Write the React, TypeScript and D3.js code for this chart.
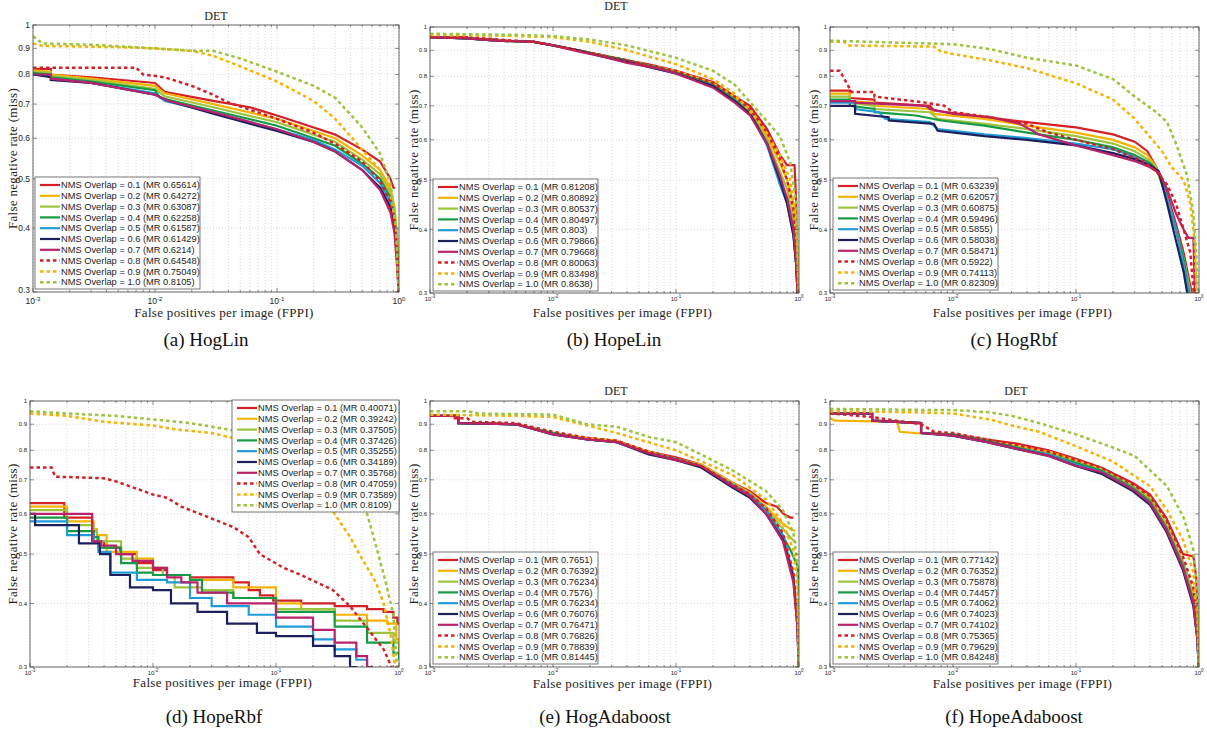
import React from "react";
import * as d3 from "d3";

const width = 1207;
const height = 733;

const overlapLabels = ["0.1", "0.2", "0.3", "0.4", "0.5", "0.6", "0.7", "0.8", "0.9", "1.0"];
const seriesColors = ["#d42027", "#f5b301", "#9cc43c", "#179a44", "#1f9bd8", "#1c1f5c", "#b8236c", "#d42027", "#f5b301", "#9cc43c"];
const seriesDashed = [false, false, false, false, false, false, false, true, true, true];

const yTickValues = [0.3, 0.4, 0.5, 0.6, 0.7, 0.8, 0.9, 1];
const yTickLabels = ["0.3", "0.4", "0.5", "0.6", "0.7", "0.8", "0.9", "1"];
const xTickExponents = [-3, -2, -1, 0];
const captions = ["(a) HogLin", "(b) HopeLin", "(c) HogRbf", "(d) HopeRbf", "(e) HogAdaboost", "(f) HopeAdaboost"];

// MR values shown in legends
const hogLinMR = ["0.65614", "0.64272", "0.63087", "0.62258", "0.61587", "0.61429", "0.6214", "0.64548", "0.75049", "0.8105"];
const hopeLinMR = ["0.81208", "0.80892", "0.80537", "0.80497", "0.803", "0.79866", "0.79668", "0.80063", "0.83498", "0.8638"];
const hogRbfMR = ["0.63239", "0.62057", "0.60875", "0.59496", "0.5855", "0.58038", "0.58471", "0.5922", "0.74113", "0.82309"];
const hopeRbfMR = ["0.40071", "0.39242", "0.37505", "0.37426", "0.35255", "0.34189", "0.35768", "0.47059", "0.73589", "0.8109"];
const hogAdaMR = ["0.7651", "0.76392", "0.76234", "0.7576", "0.76234", "0.76076", "0.76471", "0.76826", "0.78839", "0.81445"];
const hopeAdaMR = ["0.77142", "0.76352", "0.75878", "0.74457", "0.74062", "0.74023", "0.74102", "0.75365", "0.79629", "0.84248"];

// curves: [fppi, miss rate]
const hogLinCurves = [
  [[.001,.82],[.0014,.82],[.0014,.80],[.003,.79],[.01,.77],[.012,.74],[.03,.71],[.06,.69],[.1,.665],[.2,.63],[.3,.61],[.5,.57],[.7,.54],[.85,.50],[.9,.48],[.93,.48]],
  [[.001,.815],[.0014,.81],[.0014,.80],[.003,.785],[.01,.76],[.012,.735],[.03,.70],[.1,.655],[.2,.62],[.3,.60],[.5,.555],[.7,.52],[.85,.48],[.92,.44],[.97,.38],[1,.29]],
  [[.001,.81],[.0014,.805],[.0014,.795],[.003,.78],[.01,.75],[.012,.725],[.03,.69],[.1,.645],[.2,.61],[.3,.59],[.5,.545],[.7,.51],[.85,.47],[.92,.43],[.97,.37],[1,.29]],
  [[.001,.805],[.0014,.80],[.0014,.79],[.003,.775],[.01,.745],[.011,.72],[.03,.68],[.1,.635],[.2,.60],[.3,.58],[.5,.535],[.7,.50],[.85,.46],[.92,.42],[.97,.36],[1,.29]],
  [[.001,.80],[.0014,.795],[.0014,.785],[.003,.77],[.01,.735],[.012,.71],[.03,.675],[.1,.625],[.2,.595],[.3,.57],[.5,.53],[.7,.49],[.85,.45],[.92,.41],[.97,.35],[1,.29]],
  [[.001,.80],[.0014,.79],[.0014,.78],[.003,.77],[.01,.73],[.013,.71],[.03,.67],[.1,.62],[.2,.59],[.3,.565],[.5,.52],[.7,.48],[.85,.44],[.92,.40],[.97,.34],[1,.29]],
  [[.001,.80],[.0014,.80],[.0014,.785],[.003,.77],[.01,.73],[.013,.71],[.03,.675],[.1,.625],[.2,.59],[.3,.565],[.5,.52],[.7,.475],[.85,.43],[.92,.39],[.97,.33],[1,.29]],
  [[.001,.825],[.007,.825],[.008,.80],[.012,.79],[.02,.76],[.03,.73],[.04,.705],[.1,.655],[.2,.615],[.3,.585],[.5,.54],[.7,.495],[.85,.45],[.92,.41],[.97,.35],[1,.29]],
  [[.001,.92],[.0012,.91],[.005,.905],[.01,.90],[.02,.89],[.03,.87],[.05,.83],[.1,.775],[.2,.71],[.3,.655],[.5,.57],[.7,.52],[.85,.47],[.95,.40],[1,.29]],
  [[.001,.95],[.0012,.92],[.003,.915],[.01,.90],[.02,.89],[.03,.89],[.05,.86],[.1,.81],[.2,.76],[.3,.72],[.5,.63],[.7,.56],[.85,.49],[.95,.40],[1,.29]],
];

const hopeLinCurves = [
  [[.001,.955],[.002,.955],[.002,.95],[.0035,.945],[.0035,.94],[.007,.935],[.01,.92],[.016,.90],[.025,.88],[.04,.86],[.06,.845],[.1,.82],[.2,.78],[.3,.73],[.4,.70],[.55,.63],[.7,.56],[.8,.535],[.92,.535],[.95,.45],[.98,.29]],
  [[.001,.955],[.002,.95],[.0035,.94],[.007,.935],[.01,.92],[.016,.90],[.025,.88],[.04,.86],[.06,.84],[.1,.82],[.2,.775],[.3,.73],[.4,.69],[.55,.61],[.7,.54],[.8,.50],[.9,.45],[.95,.38],[.98,.29]],
  [[.001,.955],[.002,.95],[.0035,.94],[.007,.935],[.01,.92],[.016,.90],[.025,.88],[.04,.86],[.06,.84],[.1,.815],[.2,.77],[.3,.72],[.4,.68],[.55,.60],[.7,.52],[.8,.48],[.9,.42],[.95,.36],[.98,.29]],
  [[.001,.955],[.002,.95],[.0035,.94],[.007,.935],[.01,.92],[.016,.90],[.025,.88],[.04,.86],[.06,.84],[.1,.815],[.2,.77],[.3,.72],[.4,.68],[.55,.59],[.7,.50],[.8,.46],[.9,.40],[.95,.34],[.98,.29]],
  [[.001,.955],[.002,.95],[.0035,.94],[.007,.935],[.01,.92],[.016,.90],[.025,.875],[.04,.855],[.06,.835],[.1,.81],[.2,.765],[.3,.715],[.4,.675],[.55,.585],[.7,.49],[.8,.45],[.9,.39],[.95,.34],[.98,.29]],
  [[.001,.955],[.002,.95],[.0035,.94],[.007,.935],[.01,.92],[.016,.90],[.025,.875],[.04,.855],[.06,.835],[.1,.81],[.2,.765],[.3,.715],[.4,.675],[.55,.59],[.7,.50],[.8,.45],[.9,.39],[.95,.34],[.98,.29]],
  [[.001,.955],[.002,.95],[.0035,.94],[.007,.935],[.01,.92],[.016,.895],[.025,.875],[.04,.85],[.07,.83],[.1,.81],[.2,.76],[.3,.71],[.4,.67],[.55,.59],[.7,.51],[.8,.46],[.9,.40],[.95,.34],[.98,.29]],
  [[.001,.955],[.002,.955],[.0035,.945],[.007,.935],[.01,.92],[.016,.90],[.025,.88],[.04,.86],[.06,.84],[.1,.82],[.2,.775],[.3,.73],[.4,.69],[.55,.62],[.7,.55],[.8,.50],[.9,.44],[.95,.37],[.98,.29]],
  [[.001,.965],[.005,.96],[.01,.955],[.02,.935],[.04,.90],[.1,.845],[.2,.79],[.3,.74],[.5,.64],[.7,.56],[.85,.50],[.95,.42],[1,.29]],
  [[.001,.97],[.005,.965],[.01,.96],[.02,.945],[.04,.92],[.1,.87],[.2,.82],[.3,.77],[.5,.67],[.7,.61],[.85,.54],[.95,.45],[1,.29]],
];

const hogRbfCurves = [
  [[.001,.75],[.00145,.75],[.00145,.725],[.0023,.72],[.0023,.71],[.0065,.70],[.007,.685],[.018,.665],[.04,.65],[.1,.635],[.2,.615],[.3,.595],[.38,.57],[.45,.53],[.55,.47],[.65,.41],[.75,.36],[.85,.31],[.9,.29]],
  [[.001,.74],[.00145,.74],[.00145,.715],[.0023,.71],[.0023,.70],[.0065,.69],[.007,.675],[.018,.66],[.04,.64],[.1,.62],[.2,.60],[.3,.58],[.38,.56],[.45,.53],[.55,.46],[.65,.40],[.75,.35],[.85,.30],[.9,.29]],
  [[.001,.73],[.00145,.73],[.00145,.71],[.0023,.70],[.0023,.69],[.0065,.68],[.0075,.66],[.018,.645],[.04,.63],[.1,.61],[.2,.59],[.3,.57],[.38,.55],[.45,.525],[.55,.46],[.65,.40],[.75,.35],[.85,.30],[.9,.29]],
  [[.001,.72],[.00145,.72],[.00145,.70],[.0023,.69],[.0023,.68],[.005,.67],[.008,.655],[.018,.64],[.04,.62],[.1,.60],[.2,.58],[.3,.56],[.4,.54],[.47,.52],[.55,.46],[.65,.40],[.75,.35],[.83,.30],[.9,.29]],
  [[.001,.71],[.0016,.71],[.0016,.69],[.0025,.68],[.0028,.66],[.0065,.65],[.0075,.63],[.018,.615],[.04,.605],[.1,.59],[.2,.575],[.3,.555],[.4,.535],[.47,.52],[.55,.46],[.65,.40],[.75,.34],[.83,.30],[.9,.29]],
  [[.001,.70],[.0016,.70],[.0016,.675],[.003,.665],[.003,.655],[.007,.645],[.0075,.625],[.018,.61],[.04,.60],[.1,.585],[.2,.565],[.3,.55],[.4,.535],[.47,.52],[.55,.45],[.65,.38],[.75,.33],[.82,.29]],
  [[.001,.715],[.0016,.715],[.0016,.71],[.006,.70],[.0065,.69],[.01,.675],[.02,.665],[.035,.645],[.05,.615],[.1,.585],[.2,.56],[.3,.545],[.4,.53],[.48,.515],[.55,.48],[.65,.43],[.75,.40],[.82,.385],[.9,.385],[.93,.29]],
  [[.001,.82],[.0012,.82],[.0015,.745],[.0023,.745],[.0023,.73],[.006,.71],[.0085,.70],[.01,.68],[.02,.665],[.04,.645],[.06,.62],[.1,.60],[.2,.575],[.35,.545],[.45,.52],[.55,.49],[.65,.45],[.75,.40],[.85,.36],[.92,.29]],
  [[.001,.935],[.0013,.935],[.0014,.92],[.007,.915],[.008,.895],[.01,.885],[.02,.86],[.04,.83],[.1,.775],[.2,.72],[.3,.66],[.5,.57],[.6,.53],[.75,.50],[.85,.45],[.92,.38],[.96,.29]],
  [[.001,.94],[.01,.925],[.02,.905],[.04,.87],[.1,.84],[.2,.79],[.3,.73],[.45,.68],[.55,.65],[.65,.59],[.8,.51],[.9,.43],[.95,.36],[.98,.29]],
];

const hopeRbfCurves = [
  [[.001,.63],[.0019,.59],[.0032,.53],[.004,.515],[.0054,.50],[.0074,.48],[.01,.465],[.013,.455],[.02,.45],[.045,.44],[.06,.425],[.074,.415],[.095,.405],[.16,.40],[.3,.395],[.55,.39],[.75,.385],[.9,.375],[.97,.365],[1,.365]],
  [[.001,.62],[.002,.58],[.0033,.56],[.0035,.545],[.0042,.505],[.0074,.49],[.01,.47],[.013,.455],[.02,.445],[.045,.43],[.1,.40],[.16,.39],[.3,.38],[.55,.37],[.8,.365],[.95,.34],[1,.33]],
  [[.001,.61],[.002,.57],[.0033,.555],[.0035,.53],[.0055,.49],[.0074,.47],[.012,.455],[.015,.43],[.025,.425],[.045,.41],[.1,.39],[.3,.37],[.55,.35],[.9,.335],[1,.32]],
  [[.001,.59],[.002,.555],[.0033,.54],[.0036,.515],[.0055,.48],[.0074,.46],[.01,.455],[.02,.445],[.025,.42],[.045,.41],[.1,.385],[.3,.36],[.55,.335],[.9,.32],[1,.31]],
  [[.001,.58],[.002,.545],[.0033,.53],[.0036,.505],[.0045,.46],[.0074,.445],[.013,.44],[.02,.41],[.03,.395],[.06,.38],[.1,.36],[.2,.34],[.3,.325],[.45,.31],[.55,.30],[.6,.29]],
  [[.001,.60],[.0011,.57],[.0025,.525],[.0037,.50],[.0045,.455],[.0065,.43],[.01,.425],[.014,.40],[.023,.385],[.04,.365],[.07,.35],[.1,.345],[.2,.33],[.3,.315],[.4,.30],[.45,.29]],
  [[.001,.60],[.0032,.53],[.0038,.52],[.005,.50],[.0068,.485],[.01,.47],[.013,.45],[.017,.44],[.023,.42],[.04,.40],[.1,.375],[.2,.355],[.3,.335],[.45,.315],[.55,.30],[.6,.29]],
  [[.001,.74],[.0015,.74],[.0016,.71],[.004,.705],[.005,.695],[.007,.675],[.01,.655],[.013,.645],[.017,.62],[.024,.60],[.045,.565],[.06,.54],[.074,.50],[.115,.47],[.16,.455],[.29,.425],[.4,.395],[.54,.36],[.75,.325],[.87,.30],[.9,.29]],
  [[.001,.945],[.002,.935],[.004,.91],[.01,.895],[.015,.88],[.03,.865],[.05,.84],[.07,.81],[.1,.77],[.2,.68],[.3,.60],[.4,.54],[.5,.49],[.65,.44],[.75,.40],[.85,.35],[.95,.29]],
  [[.001,.955],[.002,.945],[.005,.935],[.01,.92],[.02,.905],[.04,.88],[.07,.86],[.1,.85],[.3,.75],[.45,.66],[.55,.60],[.65,.52],[.78,.44],[.9,.38],[.97,.29]],
];

const hogAdaCurves = [
  [[.001,.935],[.0017,.935],[.0017,.905],[.005,.90],[.01,.865],[.019,.845],[.033,.835],[.06,.795],[.1,.775],[.16,.75],[.29,.69],[.4,.665],[.54,.63],[.66,.62],[.75,.60],[.85,.59],[.9,.59]],
  [[.001,.935],[.0017,.935],[.0017,.905],[.005,.90],[.01,.865],[.019,.845],[.033,.835],[.06,.795],[.1,.77],[.16,.75],[.29,.69],[.4,.66],[.54,.62],[.7,.58],[.85,.56],[.93,.555]],
  [[.001,.935],[.0017,.935],[.0017,.905],[.005,.90],[.01,.865],[.019,.84],[.033,.83],[.06,.79],[.1,.77],[.16,.745],[.29,.685],[.4,.655],[.54,.615],[.7,.57],[.85,.54],[.95,.525]],
  [[.001,.935],[.0017,.935],[.0017,.905],[.005,.90],[.01,.865],[.019,.84],[.033,.83],[.06,.79],[.1,.77],[.16,.745],[.29,.68],[.4,.65],[.54,.61],[.7,.555],[.85,.51],[.95,.48],[.98,.47],[1,.42]],
  [[.001,.935],[.0017,.935],[.0017,.905],[.005,.90],[.01,.86],[.019,.84],[.033,.83],[.06,.79],[.1,.77],[.16,.745],[.29,.685],[.4,.655],[.54,.61],[.74,.545],[.9,.455],[.97,.37],[1,.29]],
  [[.001,.935],[.0017,.935],[.0017,.905],[.005,.90],[.01,.86],[.019,.84],[.033,.83],[.06,.785],[.1,.765],[.16,.74],[.29,.675],[.4,.645],[.54,.60],[.74,.535],[.9,.45],[.97,.36],[1,.29]],
  [[.001,.935],[.0017,.935],[.0017,.905],[.005,.90],[.01,.86],[.019,.84],[.033,.83],[.06,.79],[.1,.765],[.16,.745],[.29,.68],[.4,.65],[.54,.60],[.74,.53],[.9,.44],[.97,.36],[1,.29]],
  [[.001,.935],[.0015,.935],[.0015,.925],[.002,.925],[.0022,.91],[.005,.905],[.01,.87],[.02,.845],[.033,.835],[.06,.795],[.1,.77],[.16,.745],[.29,.685],[.4,.655],[.54,.615],[.74,.55],[.9,.46],[.97,.37],[1,.29]],
  [[.001,.94],[.005,.935],[.01,.93],[.019,.895],[.033,.865],[.1,.80],[.29,.715],[.54,.64],[.74,.575],[.9,.51],[.97,.44],[1,.29]],
  [[.001,.955],[.002,.955],[.0025,.945],[.01,.94],[.019,.90],[.033,.89],[.06,.85],[.1,.83],[.16,.785],[.29,.73],[.54,.665],[.74,.61],[.9,.55],[.97,.48],[1,.29]],
];

const hopeAdaCurves = [
  [[.001,.945],[.0022,.945],[.0022,.915],[.0055,.905],[.0055,.865],[.01,.86],[.019,.84],[.033,.825],[.06,.80],[.1,.77],[.16,.74],[.29,.69],[.4,.655],[.54,.59],[.74,.50],[.9,.495],[.95,.45],[1,.29]],
  [[.001,.925],[.0011,.915],[.0035,.91],[.0037,.87],[.005,.865],[.01,.86],[.019,.835],[.033,.815],[.06,.795],[.1,.765],[.16,.735],[.29,.68],[.4,.645],[.54,.575],[.74,.485],[.9,.42],[.97,.36],[1,.29]],
  [[.001,.945],[.0022,.945],[.0022,.915],[.0055,.905],[.0055,.865],[.01,.86],[.019,.835],[.033,.81],[.06,.79],[.1,.76],[.16,.735],[.29,.68],[.4,.64],[.54,.57],[.74,.48],[.9,.41],[.97,.35],[1,.29]],
  [[.001,.945],[.0022,.945],[.0022,.915],[.0055,.905],[.0055,.865],[.01,.86],[.019,.835],[.033,.81],[.06,.785],[.1,.755],[.16,.73],[.29,.675],[.4,.635],[.54,.565],[.74,.475],[.9,.405],[.97,.35],[1,.29]],
  [[.001,.945],[.0022,.945],[.0022,.915],[.0055,.905],[.0055,.865],[.01,.855],[.019,.83],[.033,.805],[.06,.785],[.1,.75],[.16,.725],[.29,.67],[.4,.63],[.54,.56],[.74,.47],[.9,.40],[.97,.34],[1,.29]],
  [[.001,.945],[.0022,.945],[.0022,.915],[.0055,.905],[.0055,.865],[.01,.855],[.019,.83],[.033,.805],[.06,.78],[.1,.745],[.16,.72],[.29,.665],[.4,.625],[.54,.555],[.74,.465],[.9,.395],[.97,.34],[1,.29]],
  [[.001,.945],[.0022,.945],[.0022,.915],[.0055,.905],[.0055,.865],[.01,.855],[.019,.83],[.033,.805],[.06,.78],[.1,.745],[.16,.725],[.29,.67],[.4,.63],[.54,.56],[.74,.47],[.9,.40],[.97,.34],[1,.29]],
  [[.001,.945],[.0022,.93],[.0055,.90],[.007,.87],[.01,.865],[.019,.84],[.033,.82],[.06,.795],[.1,.765],[.16,.74],[.29,.685],[.4,.65],[.54,.585],[.74,.495],[.9,.43],[.97,.36],[1,.29]],
  [[.001,.955],[.005,.95],[.01,.945],[.02,.92],[.03,.895],[.05,.87],[.1,.815],[.2,.76],[.4,.68],[.55,.61],[.75,.53],[.9,.46],[.97,.38],[1,.29]],
  [[.001,.965],[.007,.96],[.01,.96],[.02,.95],[.03,.935],[.05,.905],[.1,.86],[.2,.81],[.3,.78],[.55,.68],[.75,.59],[.9,.51],[.97,.42],[1,.29]],
];

const panelCurves = [hogLinCurves, hopeLinCurves, hogRbfCurves, hopeRbfCurves, hogAdaCurves, hopeAdaCurves];
const panelMR = [hogLinMR, hopeLinMR, hogRbfMR, hopeRbfMR, hogAdaMR, hopeAdaMR];

const layouts = [
  { x0: 33, x1: 399, y0: 25, y1: 292, title: [216, 20], legend: [35, 177], big: true, ylabX: 12, xlabY: 317, cap: [206, 346], step: false },
  { x0: 430, x1: 799, y0: 27, y1: 293, title: [616, 10], legend: [433, 179], big: false, ylabX: 413, xlabY: 317, cap: [614, 346], step: false },
  { x0: 830, x1: 1199, y0: 27, y1: 293, title: null, legend: [833, 178], big: false, ylabX: 813, xlabY: 317, cap: [1014, 346], step: false },
  { x0: 30, x1: 399, y0: 401, y1: 667, title: null, legend: [232, 400], big: false, ylabX: 12, xlabY: 687, cap: [214, 723], step: true },
  { x0: 430, x1: 799, y0: 401, y1: 667, title: [616, 395], legend: [433, 552], big: false, ylabX: 413, xlabY: 688, cap: [605, 723], step: false },
  { x0: 830, x1: 1199, y0: 401, y1: 667, title: [1016, 395], legend: [833, 552], big: false, ylabX: 813, xlabY: 688, cap: [1014, 723], step: false },
];

const serif = "'Liberation Serif', 'DejaVu Serif', serif";
const sans = "'Liberation Sans', Arial, sans-serif";

function Panel({ idx }: { idx: number }) {
  const L = layouts[idx];
  const curves = panelCurves[idx] as [number, number][][];
  const mr = panelMR[idx];
  const xs = d3.scaleLog().domain([0.001, 1]).range([L.x0, L.x1]);
  const ys = d3.scaleLog().domain([0.3, 1]).range([L.y1, L.y0]);

  const minorX = d3.range(-3, 0).flatMap(e => d3.range(1, 10).map(k => k * Math.pow(10, e))).concat([1]);
  const tickFs = L.big ? 8.5 : 6;
  const supFs = L.big ? 6 : 4.5;
  const clipId = "clip" + idx;

  const lineFor = (i: number) =>
    d3.line<[number, number]>()
      .x(d => xs(d[0]))
      .y(d => ys(d[1]))
      .curve(L.step && i < 7 ? d3.curveStepAfter : d3.curveLinear);

  const [lx, ly] = L.legend;
  const lw = idx === 3 ? 167 : 165;
  const rowH = 10.8;

  return (
    <g>
      <defs>
        <clipPath id={clipId}>
          <rect x={L.x0} y={L.y0} width={L.x1 - L.x0} height={L.y1 - L.y0} />
        </clipPath>
      </defs>
      <rect x={L.x0} y={L.y0} width={L.x1 - L.x0} height={L.y1 - L.y0} fill="#fff" />
      {/* grid */}
      {minorX.map((v, i) => (
        <line key={"gx" + i} x1={xs(v)} x2={xs(v)} y1={L.y0} y2={L.y1} stroke="#c4c4c4" strokeWidth={0.6} strokeDasharray="1,2" />
      ))}
      {yTickValues.map((v, i) => (
        <line key={"gy" + i} x1={L.x0} x2={L.x1} y1={ys(v)} y2={ys(v)} stroke="#c4c4c4" strokeWidth={0.6} strokeDasharray="1,2" />
      ))}
      {/* curves */}
      <g clipPath={`url(#${clipId})`}>
        {curves.map((c, i) => (
          <path
            key={"c" + i}
            d={lineFor(i)(c) || ""}
            fill="none"
            stroke={seriesColors[i]}
            strokeWidth={seriesDashed[i] ? 2.5 : 2.2}
            strokeDasharray={seriesDashed[i] ? "3.5,3" : undefined}
            strokeLinejoin="miter"
          />
        ))}
      </g>
      {/* frame and ticks */}
      <rect x={L.x0} y={L.y0} width={L.x1 - L.x0} height={L.y1 - L.y0} fill="none" stroke="#444" strokeWidth={0.8} />
      {minorX.map((v, i) => {
        const major = xTickExponents.some(e => Math.abs(Math.pow(10, e) - v) < 1e-9);
        const len = major ? 4 : 2;
        return (
          <g key={"tx" + i}>
            <line x1={xs(v)} x2={xs(v)} y1={L.y1} y2={L.y1 - len} stroke="#444" strokeWidth={0.6} />
            <line x1={xs(v)} x2={xs(v)} y1={L.y0} y2={L.y0 + len} stroke="#444" strokeWidth={0.6} />
          </g>
        );
      })}
      {yTickValues.map((v, i) => (
        <g key={"ty" + i}>
          <line x1={L.x0} x2={L.x0 + 4} y1={ys(v)} y2={ys(v)} stroke="#444" strokeWidth={0.6} />
          <line x1={L.x1} x2={L.x1 - 4} y1={ys(v)} y2={ys(v)} stroke="#444" strokeWidth={0.6} />
          <text x={L.x0 - 3} y={ys(v) - (i === 0 && L.big ? 1.5 : 0)} dy="0.35em" textAnchor="end" fontFamily={sans} fontSize={tickFs} fill="#222">
            {yTickLabels[i]}
          </text>
        </g>
      ))}
      {xTickExponents.map(e => (
        <text key={"xl" + e} x={xs(Math.pow(10, e))} y={L.y1 + (L.big ? 12 : 7.5)} textAnchor="middle" fontFamily={sans} fontSize={tickFs} fill="#222">
          10
          <tspan dy={L.big ? -3.5 : -2.5} fontSize={supFs}>{String(e)}</tspan>
        </text>
      ))}
      {/* labels */}
      {L.title && (
        <text x={L.title[0]} y={L.title[1]} textAnchor="middle" fontFamily={serif} fontSize={12} fill="#222">DET</text>
      )}
      <text x={(L.x0 + L.x1) / 2 + 8} y={L.xlabY} textAnchor="middle" fontFamily={serif} fontSize={13} fill="#222" letterSpacing={0.3}>
        False positives per image (FPPI)
      </text>
      <text
        transform={`translate(${L.ylabX},${(L.y0 + L.y1) / 2}) rotate(-90)`}
        textAnchor="middle"
        dy="0.35em"
        fontFamily={serif}
        fontSize={13}
        fill="#222"
        letterSpacing={0.3}
      >
        False negative rate (miss)
      </text>
      {/* legend */}
      <rect x={lx} y={ly} width={lw} height={112} fill="#fff" stroke="#555" strokeWidth={0.8} />
      {overlapLabels.map((o, i) => {
        const cy = ly + 8 + i * rowH;
        return (
          <g key={"lg" + i}>
            <line
              x1={lx + 5}
              x2={lx + 25}
              y1={cy}
              y2={cy}
              stroke={seriesColors[i]}
              strokeWidth={seriesDashed[i] ? 2.5 : 2.2}
              strokeDasharray={seriesDashed[i] ? "3.5,3" : undefined}
            />
            <text x={lx + 26} y={cy} dy="0.35em" fontFamily={sans} fontSize={9.3} fill="#222">
              {`NMS Overlap = ${o} (MR ${mr[i]})`}
            </text>
          </g>
        );
      })}
      <text x={L.cap[0]} y={L.cap[1]} textAnchor="middle" fontFamily={serif} fontSize={19} fill="#111">
        {captions[idx]}
      </text>
    </g>
  );
}

export default function App() {
  return (
    <svg width={width} height={height} style={{ position: "absolute", left: 0, top: 0, background: "#fff" }}>
      <rect width={width} height={height} fill="#fff" />
      {layouts.map((_, i) => (
        <Panel key={i} idx={i} />
      ))}
    </svg>
  );
}
